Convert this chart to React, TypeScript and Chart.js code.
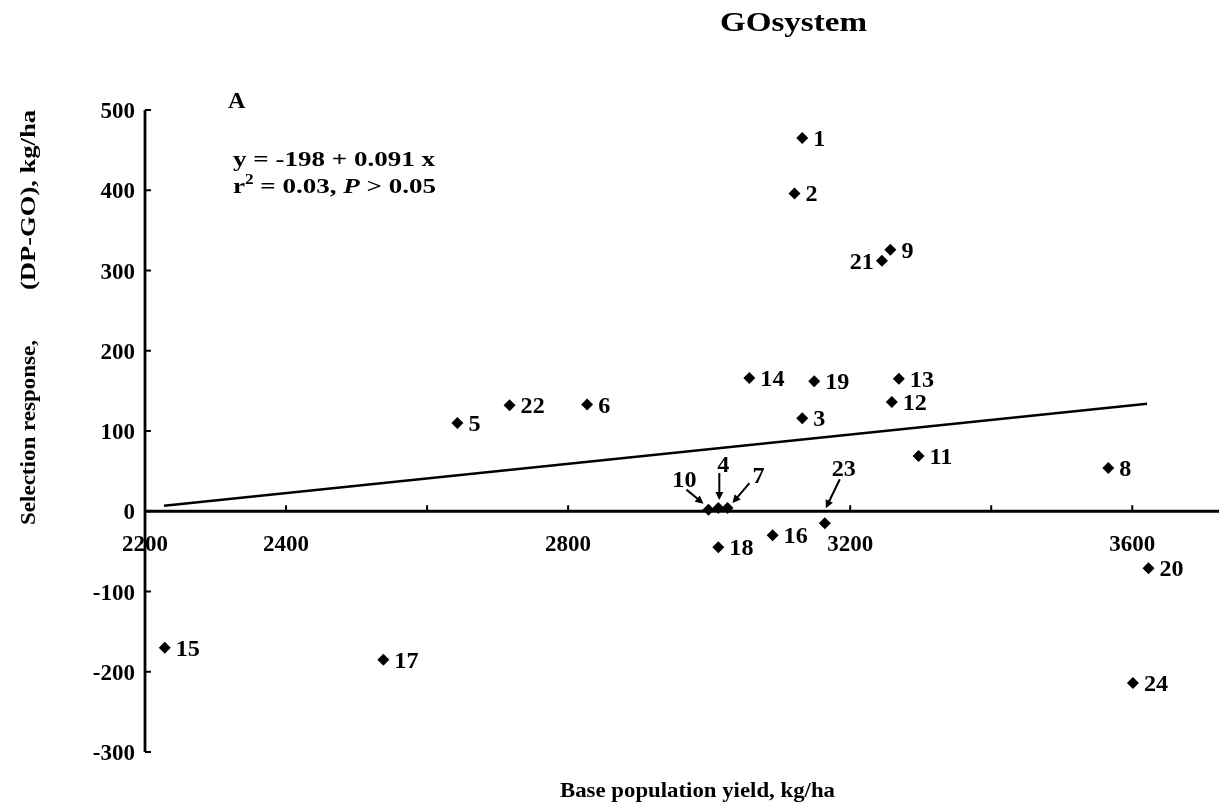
import { useEffect, useRef } from "react";
import { Chart, registerables } from "chart.js";

Chart.register(...registerables);

// ---- data ----
const entryIds = ["1", "2", "3", "4", "5", "6", "7", "8", "9", "10", "11", "12", "13", "14", "15", "16", "17", "18", "19", "20", "21", "22", "23", "24"];
const baseYield = [3132, 3121, 3132, 3013, 2643, 2827, 3026, 3566, 3257, 2999, 3297, 3259, 3269, 3057, 2228, 3090, 2538, 3013, 3149, 3623, 3245, 2717, 3164, 3601];
const selResponse = [465, 396, 116, 4, 110, 133, 4, 54, 326, 2, 69, 136, 165, 166, -170, -30, -185, -45, 162, -71, 312, 132, -15, -214];
const fitX = [2227, 3621];
const fitY = [7, 134];
const xTicks = [2200, 2400, 2600, 2800, 3000, 3200, 3400, 3600];
const xTickLabels = [2200, 2400, 2800, 3200, 3600];
const yTicks = [-300, -200, -100, 0, 100, 200, 300, 400, 500];

const titleText = "GOsystem";
const panelText = "A";
const eqText = "y = -198 + 0.091 x";
const xTitle = "Base population yield, kg/ha";
const yTitleA = "Selection response,";
const yTitleB = "(DP-GO), kg/ha";

// label placement (styling): pixel offsets for special labels
const labelLeft = new Set(["21"]);
const arrowLabels: Record<string, { lx: number; ly: number; ax: number; ay: number; tx: number; ty: number }> = {
  "10": { lx: -24, ly: -31, ax: -22, ay: -20, tx: -5, ty: -6 },
  "4": { lx: 5, ly: -44, ax: 1, ay: -35, tx: 1, ty: -8 },
  "7": { lx: 31, ly: -33, ax: 22, ay: -25, tx: 5, ty: -5 },
  "23": { lx: 19, ly: -55, ax: 15, ay: -44, tx: 1, ty: -15 },
};

const FONT = '"Liberation Serif"';

function drawText(
  ctx: CanvasRenderingContext2D,
  s: string,
  x: number,
  y: number,
  size: number,
  align: "left" | "center" | "right" = "left",
  sx = 1,
  italic = false
) {
  ctx.save();
  ctx.font = `${italic ? "italic " : ""}bold ${size}px ${FONT}`;
  ctx.textAlign = "left";
  ctx.textBaseline = "alphabetic";
  const w = ctx.measureText(s).width * sx;
  const x0 = align === "left" ? x : align === "center" ? x - w / 2 : x - w;
  ctx.translate(x0, y);
  ctx.scale(sx, 1);
  ctx.fillStyle = "#000";
  ctx.fillText(s, 0, 0);
  ctx.restore();
  return w;
}

function natural(ctx: CanvasRenderingContext2D, s: string, size: number, italic = false) {
  ctx.save();
  ctx.font = `${italic ? "italic " : ""}bold ${size}px ${FONT}`;
  const w = ctx.measureText(s).width;
  ctx.restore();
  return w;
}

function arrow(ctx: CanvasRenderingContext2D, x1: number, y1: number, x2: number, y2: number) {
  const ang = Math.atan2(y2 - y1, x2 - x1);
  const hl = 8, hw = 4;
  ctx.save();
  ctx.strokeStyle = "#000";
  ctx.fillStyle = "#000";
  ctx.lineWidth = 2;
  ctx.beginPath();
  ctx.moveTo(x1, y1);
  ctx.lineTo(x2 - Math.cos(ang) * hl * 0.8, y2 - Math.sin(ang) * hl * 0.8);
  ctx.stroke();
  ctx.beginPath();
  ctx.moveTo(x2, y2);
  ctx.lineTo(x2 - Math.cos(ang) * hl - Math.sin(ang) * hw, y2 - Math.sin(ang) * hl + Math.cos(ang) * hw);
  ctx.lineTo(x2 - Math.cos(ang) * hl + Math.sin(ang) * hw, y2 - Math.sin(ang) * hl - Math.cos(ang) * hw);
  ctx.closePath();
  ctx.fill();
  ctx.restore();
}

const axesPlugin = {
  id: "customAxes",
  beforeDatasetsDraw(chart: any) {
    const ctx: CanvasRenderingContext2D = chart.ctx;
    const xs = chart.scales.x;
    const ys = chart.scales.y;
    const area = chart.chartArea;
    const y0 = ys.getPixelForValue(0);
    ctx.save();
    ctx.strokeStyle = "#000";
    ctx.lineWidth = 2.8;
    ctx.beginPath();
    ctx.moveTo(area.left, ys.getPixelForValue(500));
    ctx.lineTo(area.left, ys.getPixelForValue(-300));
    ctx.stroke();
    ctx.beginPath();
    ctx.moveTo(area.left, y0);
    ctx.lineTo(area.right, y0);
    ctx.stroke();
    ctx.lineWidth = 2;
    yTicks.forEach((v) => {
      const py = ys.getPixelForValue(v);
      ctx.beginPath();
      ctx.moveTo(area.left, py);
      ctx.lineTo(area.left + 6, py);
      ctx.stroke();
    });
    xTicks.forEach((v) => {
      const px = xs.getPixelForValue(v);
      ctx.beginPath();
      ctx.moveTo(px, y0);
      ctx.lineTo(px, y0 - 6);
      ctx.stroke();
    });
    ctx.restore();
  },
  afterDatasetsDraw(chart: any) {
    const ctx: CanvasRenderingContext2D = chart.ctx;
    const xs = chart.scales.x;
    const ys = chart.scales.y;
    const area = chart.chartArea;
    const y0 = ys.getPixelForValue(0);

    yTicks.forEach((v) => {
      drawText(ctx, String(v), area.left - 10, ys.getPixelForValue(v) + 8, 23, "right", 1.0);
    });
    xTickLabels.forEach((v) => {
      drawText(ctx, String(v), xs.getPixelForValue(v), y0 + 40, 23, "center", 1.0);
    });

    entryIds.forEach((id, i) => {
      const px = xs.getPixelForValue(baseYield[i]);
      const py = ys.getPixelForValue(selResponse[i]);
      const a = arrowLabels[id];
      if (a) {
        drawText(ctx, id, px + a.lx, py + a.ly + 8, 23, "center", 1.05);
        arrow(ctx, px + a.ax, py + a.ay, px + a.tx, py + a.ty);
      } else if (labelLeft.has(id)) {
        drawText(ctx, id, px - 8, py + 8, 23, "right", 1.05);
      } else {
        drawText(ctx, id, px + 11, py + 8, 23, "left", 1.05);
      }
    });

    const tw = natural(ctx, titleText, 27);
    drawText(ctx, titleText, 720, 31, 27, "left", 147 / tw);
    drawText(ctx, panelText, 228, 108, 23, "left", 1.05);
    const ew = natural(ctx, eqText, 22);
    const esx = 202 / ew;
    drawText(ctx, eqText, 233, 166, 22, "left", esx);
    let x = 233;
    const b2 = 193;
    x += drawText(ctx, "r", x, b2, 22, "left", esx);
    drawText(ctx, "2", x, b2 - 9, 14, "left", esx);
    x += natural(ctx, "2", 14) * esx;
    x += drawText(ctx, " = 0.03, ", x, b2, 22, "left", esx);
    x += drawText(ctx, "P", x, b2, 22, "left", esx, true);
    drawText(ctx, " > 0.05", x, b2, 22, "left", esx);

    const xw = natural(ctx, xTitle, 22);
    drawText(ctx, xTitle, 560, 797, 22, "left", 275 / xw);

    ctx.save();
    ctx.translate(35, 525);
    ctx.rotate(-Math.PI / 2);
    const aw = natural(ctx, yTitleA, 22);
    drawText(ctx, yTitleA, 0, 0, 22, "left", 185 / aw);
    const bw = natural(ctx, yTitleB, 22);
    drawText(ctx, yTitleB, 235, 0, 22, "left", 180 / bw);
    ctx.restore();
  },
};

export default function App() {
  const ref = useRef<HTMLCanvasElement>(null);
  useEffect(() => {
    document.body.style.margin = "0";
    const canvas = ref.current!;
    const chart = new Chart(canvas, {
      type: "scatter",
      data: {
        datasets: [
          {
            label: "entries",
            data: baseYield.map((x, i) => ({ x, y: selResponse[i] })),
            pointStyle: "rectRot",
            pointRadius: 6,
            backgroundColor: "#000",
            borderColor: "#000",
            borderWidth: 0,
          },
          {
            label: "fit",
            data: fitX.map((x, i) => ({ x, y: fitY[i] })),
            showLine: true,
            pointRadius: 0,
            borderColor: "#000",
            borderWidth: 2.5,
            fill: false,
          },
        ],
      },
      options: {
        animation: false,
        responsive: false,
        maintainAspectRatio: false,
        layout: { padding: { left: 145, right: 6, top: 110, bottom: 55 } },
        plugins: { legend: { display: false }, tooltip: { enabled: false } },
        scales: {
          x: { type: "linear", min: 2200, max: 3723, display: false },
          y: { type: "linear", min: -300, max: 500, display: false },
        },
      },
      plugins: [axesPlugin],
    });
    return () => chart.destroy();
  }, []);
  return (
    <div style={{ width: 1225, height: 807 }}>
      <canvas ref={ref} width={1225} height={807} style={{ display: "block" }} />
    </div>
  );
}
